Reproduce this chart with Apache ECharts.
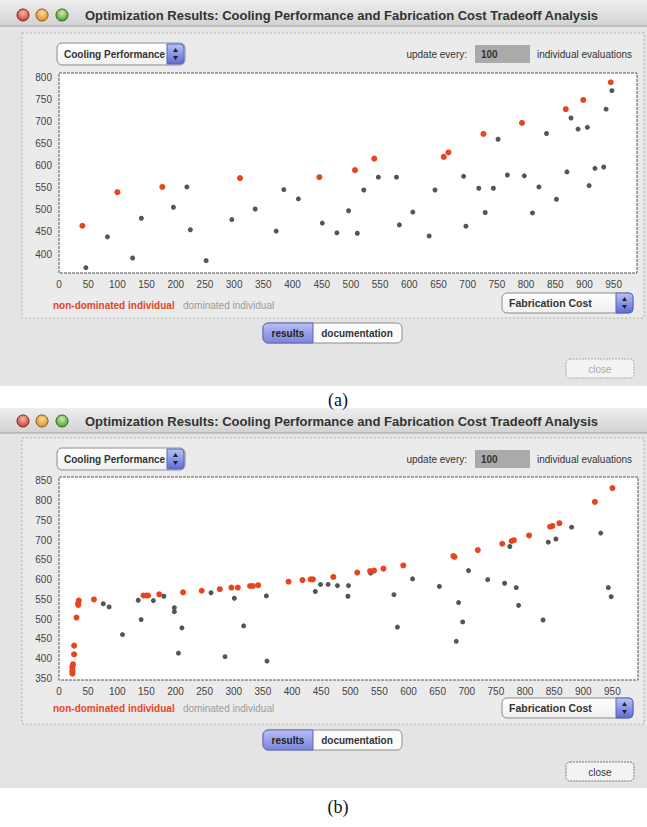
<!DOCTYPE html>
<html>
<head>
<meta charset="utf-8">
<script src="https://cdn.jsdelivr.net/npm/echarts@6/dist/echarts.min.js"></script>
<style>
  html, body { margin: 0; padding: 0; background: #fff; }
  #chart { width: 647px; height: 827px; }
</style>
</head>
<body>
<div id="chart"></div>
<script>
// run (a): [fabrication cost, cooling performance]
var aNonDominated = [
    [40, 464], [100, 540], [177, 552], [310, 572], [446, 574], [507, 590], [540, 616],
    [659, 620], [667, 630], [727, 672], [793, 697], [868, 728], [898, 749], [945, 789]
];
var aDominated = [
    [46, 369], [83, 439], [126, 391], [141, 481], [196, 506], [219, 552], [225, 455],
    [252, 385], [296, 478], [336, 502], [372, 452], [385, 546], [410, 525], [451, 470],
    [476, 448], [496, 498], [511, 447], [522, 545], [547, 574], [578, 574], [583, 466],
    [606, 495], [634, 441], [644, 545], [693, 576], [697, 463], [719, 549], [730, 494],
    [744, 549], [752, 660], [768, 579], [797, 577], [811, 493], [822, 552], [835, 673],
    [852, 524], [870, 586], [877, 708], [889, 683], [905, 687], [908, 555], [918, 594],
    [933, 597], [937, 728], [947, 770]
];
// run (b)
var bNonDominated = [
    [23, 362], [23, 368], [23, 374], [23, 380], [24, 386], [26, 411], [26, 433], [30, 504],
    [33, 536], [33, 540], [34, 547], [60, 550], [145, 560], [150, 560], [153, 560],
    [172, 563], [213, 568], [245, 572], [276, 576], [296, 580], [307, 580], [328, 584],
    [333, 584], [342, 586], [394, 595], [418, 599], [432, 601], [436, 601], [471, 607],
    [512, 618], [534, 622], [541, 623], [557, 628], [591, 636], [677, 660], [679, 658],
    [719, 675], [761, 691], [777, 698], [781, 700], [807, 712], [843, 734], [847, 736],
    [859, 743], [920, 797], [950, 832]
];
var bDominated = [
    [76, 539], [86, 531], [109, 461], [136, 548], [141, 499], [162, 547], [180, 558],
    [198, 529], [198, 519], [205, 414], [211, 478], [261, 567], [285, 405], [301, 553],
    [317, 483], [356, 559], [357, 394], [440, 570], [449, 588], [462, 588], [478, 585],
    [497, 585], [496, 558], [535, 617], [575, 562], [581, 480], [607, 602], [653, 583],
    [682, 444], [686, 542], [693, 493], [703, 623], [736, 600], [765, 591], [774, 684],
    [785, 580], [789, 535], [831, 498], [840, 695], [853, 703], [880, 733], [930, 718],
    [943, 580], [948, 557]
];
var windowTitle = 'Optimization Results: Cooling Performance and Fabrication Cost Tradeoff Analysis';
var legendLabels = ['non-dominated individual', 'dominated individual'];

var RED = '#e8451e';
var GRAY = '#555555';
var FONT = '"Liberation Sans", Arial, sans-serif';

function txt(x, y, text, font, fill, align) {
    return {
        type: 'text', x: x, y: y, z: 10,
        style: {
            text: text, font: font, fill: fill,
            align: align || 'left', verticalAlign: 'middle',
            textAlign: align || 'left', textVerticalAlign: 'middle'
        }
    };
}

function vgrad(c1, c2) {
    return { type: 'linear', x: 0, y: 0, x2: 0, y2: 1, colorStops: [{ offset: 0, color: c1 }, { offset: 1, color: c2 }] };
}

function light(cx, cy, c1, c2, edge) {
    return {
        type: 'circle', z: 3, shape: { cx: cx, cy: cy, r: 6 },
        style: {
            fill: { type: 'radial', x: 0.5, y: 0.35, r: 0.65, colorStops: [{ offset: 0, color: c1 }, { offset: 1, color: c2 }] },
            stroke: edge, lineWidth: 1
        }
    };
}

function stepper(x, y, h) {
    return [
        { type: 'rect', z: 4, shape: { x: x, y: y, width: 17, height: h, r: [0, 4, 4, 0] },
          style: { fill: vgrad('#b9c2f4', '#5a6cd6'), stroke: '#5664b8' } },
        { type: 'polygon', z: 5, shape: { points: [[x + 6, y + h / 2 - 2], [x + 11, y + h / 2 - 2], [x + 8.5, y + h / 2 - 6]] }, style: { fill: '#222' } },
        { type: 'polygon', z: 5, shape: { points: [[x + 6, y + h / 2 + 2], [x + 11, y + h / 2 + 2], [x + 8.5, y + h / 2 + 6]] }, style: { fill: '#222' } }
    ];
}

// window chrome around one plot, w holds the vertical positions
function windowParts(w) {
    var p = [];
    p.push({ type: 'rect', z: -10, shape: { x: 0, y: w.top, width: 647, height: w.bottom - w.top }, style: { fill: '#e4e4e4' } });
    p.push({ type: 'rect', z: -9, shape: { x: 0, y: w.top, width: 647, height: w.barH }, style: { fill: vgrad('#eeeeee', '#d2d2d2') } });
    p.push({ type: 'line', z: -9, shape: { x1: 0, y1: w.top + w.barH, x2: 647, y2: w.top + w.barH }, style: { stroke: '#a0a0a0' } });
    p.push(light(23, w.titleY, '#f7b9ad', '#c93a2c', '#7d2a20'));
    p.push(light(42, w.titleY, '#f9dda0', '#db8a22', '#8a5a18'));
    p.push(light(62, w.titleY, '#cdebb0', '#4f9c2f', '#2f6a1c'));
    p.push(txt(85, w.titleY, windowTitle, 'bold 13px ' + FONT, '#333'));
    // group box
    p.push({ type: 'rect', z: -8, shape: { x: 22, y: w.boxTop, width: 622, height: w.boxBottom - w.boxTop },
             style: { fill: '#ebebeb', stroke: '#b0b0b0', lineDash: [2, 2] } });
    // cooling performance selector
    p.push({ type: 'rect', z: 3, shape: { x: 57, y: w.headY - 11, width: 128, height: 22, r: 5 },
             style: { fill: vgrad('#ffffff', '#f0f0f0'), stroke: '#8c8c8c' } });
    p = p.concat(stepper(167, w.headY - 10, 20));
    p.push(txt(64, w.headY, 'Cooling Performance', 'bold 10px ' + FONT, '#333'));
    p.push(txt(467, w.headY, 'update every:', '10px ' + FONT, '#333', 'right'));
    p.push({ type: 'rect', z: 3, shape: { x: 475, y: w.headY - 9, width: 55, height: 18 }, style: { fill: '#aaaaaa' } });
    p.push(txt(481, w.headY, '100', 'bold 10px ' + FONT, '#333'));
    p.push(txt(537, w.headY, 'individual evaluations', '10px ' + FONT, '#333'));
    // legend
    p.push(txt(53, w.legendY, legendLabels[0], 'bold 10px ' + FONT, RED));
    p.push(txt(183, w.legendY, legendLabels[1], '10px ' + FONT, '#9a9a9a'));
    // fabrication cost selector
    p.push({ type: 'rect', z: 3, shape: { x: 502, y: w.fabY, width: 131, height: 20, r: 5 },
             style: { fill: vgrad('#ffffff', '#f0f0f0'), stroke: '#8c8c8c' } });
    p = p.concat(stepper(616, w.fabY, 20));
    p.push(txt(509, w.fabY + 10, 'Fabrication Cost', 'bold 10.5px ' + FONT, '#333'));
    // results / documentation
    p.push({ type: 'rect', z: 3, shape: { x: 263, y: w.btnY, width: 139, height: 20, r: 5 },
             style: { fill: '#fbfbfb', stroke: '#8c8c8c' } });
    p.push({ type: 'rect', z: 4, shape: { x: 263, y: w.btnY, width: 50, height: 20, r: [5, 0, 0, 5] },
             style: { fill: vgrad('#b8bef4', '#7b84dc'), stroke: '#5e66b8' } });
    p.push(txt(288, w.btnY + 10, 'results', 'bold 10px ' + FONT, '#222', 'center'));
    p.push(txt(357, w.btnY + 10, 'documentation', 'bold 10px ' + FONT, '#333', 'center'));
    // close
    p.push({ type: 'rect', z: 3, shape: { x: 566, y: w.closeY, width: 68, height: 19, r: 4 },
             style: { fill: '#f3f3f3', stroke: w.closeActive ? '#777' : '#aaa', lineDash: [2, 1] } });
    p.push(txt(600, w.closeY + 10, 'close', '10px ' + FONT, w.closeActive ? '#333' : '#aaa', 'center'));
    p.push(txt(338, w.captionY, w.caption, '18px "Liberation Serif", serif', '#111', 'center'));
    return p;
}

function plotFrame(x, y, w, h) {
    return { type: 'rect', z: 6, shape: { x: x, y: y, width: w, height: h },
             style: { fill: null, stroke: '#555', lineWidth: 1, lineDash: [3, 1] } };
}

var winA = { top: 0, bottom: 386, barH: 26, titleY: 15, boxTop: 33, boxBottom: 318, headY: 54,
             legendY: 305, fabY: 293, btnY: 323, closeY: 359, closeActive: false, caption: '(a)', captionY: 400 };
var winB = { top: 408, bottom: 788, barH: 25, titleY: 421, boxTop: 438, boxBottom: 724, headY: 459,
             legendY: 708, fabY: 698, btnY: 730, closeY: 762, closeActive: true, caption: '(b)', captionY: 807 };

var graphics = windowParts(winA).concat(windowParts(winB));
graphics.push(plotFrame(59, 73, 578, 200));
graphics.push(plotFrame(59, 477, 579, 203));

function xAxisOpt(grid, max) {
    return {
        type: 'value', gridIndex: grid, min: 0, max: max, interval: 50,
        axisLine: { show: false }, axisTick: { show: false }, splitLine: { show: false },
        axisLabel: { showMaxLabel: false, margin: 6, fontSize: 10, color: '#444', fontFamily: FONT }
    };
}
function yAxisOpt(grid, min, max, split) {
    return {
        type: 'value', gridIndex: grid, min: min, max: max, splitNumber: split,
        axisLine: { show: false }, axisTick: { show: false }, splitLine: { show: false },
        axisLabel: { showMinLabel: false, showMaxLabel: false, margin: 7, fontSize: 10, color: '#444', fontFamily: FONT }
    };
}
function dots(name, axis, data, color, size) {
    return { name: name, type: 'scatter', xAxisIndex: axis, yAxisIndex: axis, data: data,
             symbolSize: size, itemStyle: { color: color, opacity: 1 }, z: 4 };
}

var chart = echarts.init(document.getElementById('chart'), null, { renderer: 'svg' });
var option = {
    animation: false,
    backgroundColor: '#fff',
    grid: [
        { left: 59, top: 73, width: 578, height: 200, show: true, backgroundColor: '#fff', borderWidth: 0 },
        { left: 59, top: 477, width: 579, height: 203, show: true, backgroundColor: '#fff', borderWidth: 0 }
    ],
    xAxis: [xAxisOpt(0, 990), xAxisOpt(1, 994)],
    yAxis: [yAxisOpt(0, 357, 810, 9), yAxisOpt(1, 346, 860, 10)],
    series: [
        dots(legendLabels[1], 0, aDominated, GRAY, 5),
        dots(legendLabels[0], 0, aNonDominated, RED, 6),
        dots(legendLabels[1], 1, bDominated, GRAY, 5),
        dots(legendLabels[0], 1, bNonDominated, RED, 6)
    ],
    graphic: { elements: graphics }
};
chart.setOption(option);
</script>
</body>
</html>
